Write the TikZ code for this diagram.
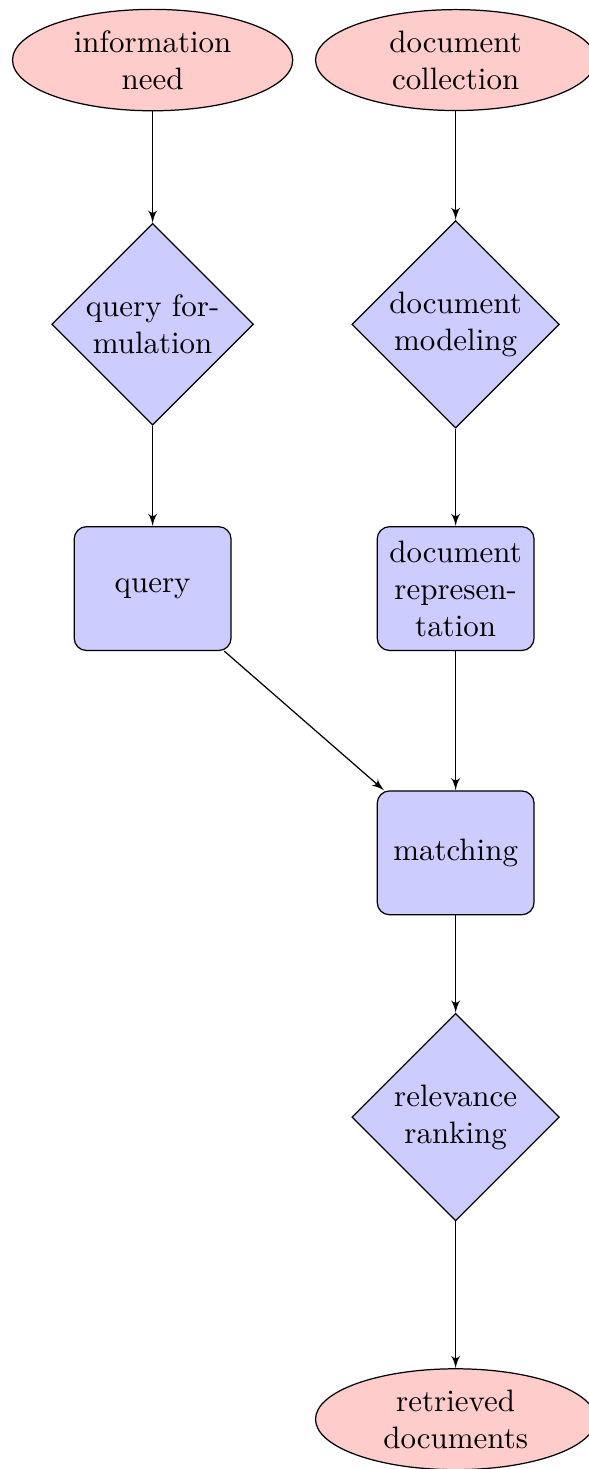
\documentclass[tikz,border=0pt]{standalone}
\usetikzlibrary{arrows,shapes.geometric,positioning}

\begin{document}
\begin{tikzpicture}
[node distance = 3cm, auto,
% STYLES
% The decision style is used for the processing steps
decision/.style={diamond, draw, fill=blue!20, text width=4.6em, text badly centered, inner sep=0pt},
% The block style is used for the intermediate results
block/.style={rectangle, draw, fill=blue!20, text width=4.4em, text centered, rounded corners, minimum height=4em},
% The cloud style is used for what goes in and what comes out
cloud/.style={ellipse, draw, fill=red!20, text width=6em, text centered, inner sep=2pt},
line/.style={draw, -latex'}]

\useasboundingbox (-49.3pt,19.4pt) rectangle (140.7pt,-455.1pt);

% Query side
\node [cloud] (need) {information need};
\node [decision, below of=need] (formulation) {query formulation};
\node [block, below of=formulation] (query) {query};

% Document side
\node [cloud, right of=need, node distance=3.44cm] (collection) {document collection};
\node [decision, below of=collection] (modeling) {document modeling};
\node [block, below of=modeling] (representation) {document representation};

% Matching and output
\node [block, below of=representation] (matching) {matching};
\node [decision, below of=matching] (ranking) {relevance ranking};
\node [cloud, below of=ranking, node distance=3.43cm] (retrieved) {retrieved documents};

% Draw the links between steps
\path [line] (need) -- (formulation);
\path [line] (formulation) -- (query);
\path [line] (collection) -- (modeling);
\path [line] (modeling) -- (representation);
\path [line] (query) -- (matching);
\path [line] (representation) -- (matching);
\path [line] (matching) -- (ranking);
\path [line] (ranking) -- (retrieved);

\end{tikzpicture}
\end{document}
